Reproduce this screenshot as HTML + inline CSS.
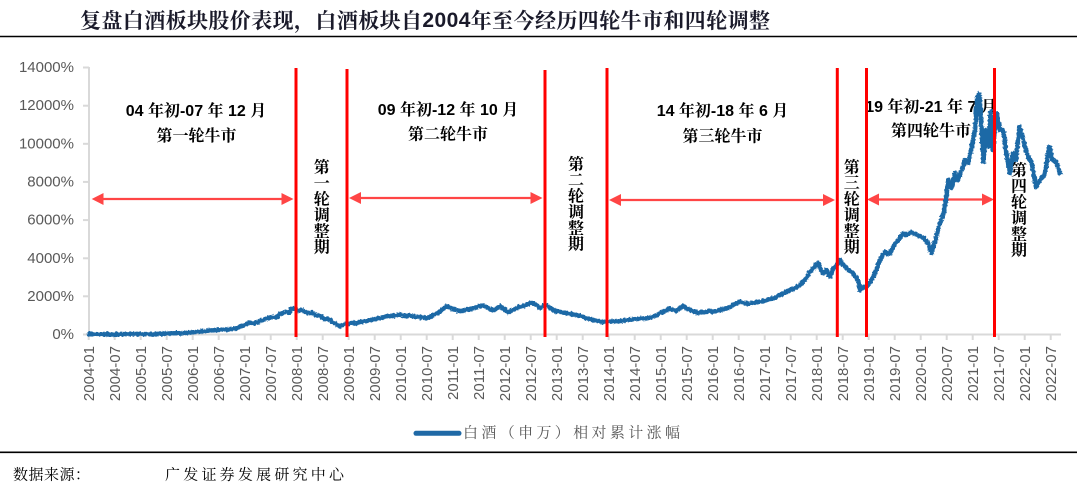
<!DOCTYPE html>
<html><head><meta charset="utf-8"><style>
html,body{margin:0;padding:0;background:#fff;}
svg{display:block;}
</style></head><body>
<svg width="1077" height="482" viewBox="0 0 1077 482" xmlns="http://www.w3.org/2000/svg">
<defs>
<filter id="rough" x="-2%" y="-10%" width="104%" height="120%">
<feTurbulence type="fractalNoise" baseFrequency="0.45" numOctaves="2" seed="3" result="n"/>
<feDisplacementMap in="SourceGraphic" in2="n" scale="3.2" xChannelSelector="R" yChannelSelector="G"/>
</filter>
</defs>
<rect width="1077" height="482" fill="#fff"/>
<!-- Title -->
<text x="80" y="20" dominant-baseline="central" font-size="21" font-weight="bold" fill="#1a1a2a" font-family="'Noto Serif CJK SC','Noto Sans CJK SC',serif" textLength="690" lengthAdjust="spacing">复盘白酒板块股价表现，白酒板块自<tspan font-family="'Liberation Sans',sans-serif" font-weight="bold">2004</tspan>年至今经历四轮牛市和四轮调整</text>
<line x1="0" y1="36.5" x2="1077" y2="36.5" stroke="#000" stroke-width="1.6"/>

<!-- Y axis -->
<g stroke="#d9d9d9" stroke-width="2">
<line x1="89" y1="67" x2="89" y2="335"/>
<line x1="83" y1="67.5" x2="89" y2="67.5"/>
<line x1="83" y1="105.7" x2="89" y2="105.7"/>
<line x1="83" y1="143.8" x2="89" y2="143.8"/>
<line x1="83" y1="181.9" x2="89" y2="181.9"/>
<line x1="83" y1="220.1" x2="89" y2="220.1"/>
<line x1="83" y1="258.3" x2="89" y2="258.3"/>
<line x1="83" y1="296.3" x2="89" y2="296.3"/>
<line x1="83" y1="334.5" x2="1061" y2="334.5"/>
</g>
<g font-family="'Liberation Sans',sans-serif" font-size="15" fill="#595959" text-anchor="end" dominant-baseline="central">
<text x="74" y="67.5">14000%</text>
<text x="74" y="105.7">12000%</text>
<text x="74" y="143.8">10000%</text>
<text x="74" y="181.9">8000%</text>
<text x="74" y="220.1">6000%</text>
<text x="74" y="258.3">4000%</text>
<text x="74" y="296.3">2000%</text>
<text x="74" y="334.5">0%</text>
</g>

<!-- X ticks -->
<g stroke="#d9d9d9" stroke-width="2">
<line x1="88.7" y1="334.5" x2="88.7" y2="340"/><line x1="114.7" y1="334.5" x2="114.7" y2="340"/><line x1="140.7" y1="334.5" x2="140.7" y2="340"/><line x1="166.7" y1="334.5" x2="166.7" y2="340"/><line x1="192.7" y1="334.5" x2="192.7" y2="340"/><line x1="218.7" y1="334.5" x2="218.7" y2="340"/><line x1="244.7" y1="334.5" x2="244.7" y2="340"/><line x1="270.7" y1="334.5" x2="270.7" y2="340"/><line x1="296.7" y1="334.5" x2="296.7" y2="340"/><line x1="322.7" y1="334.5" x2="322.7" y2="340"/><line x1="348.7" y1="334.5" x2="348.7" y2="340"/><line x1="374.7" y1="334.5" x2="374.7" y2="340"/><line x1="400.7" y1="334.5" x2="400.7" y2="340"/><line x1="426.7" y1="334.5" x2="426.7" y2="340"/><line x1="452.7" y1="334.5" x2="452.7" y2="340"/><line x1="478.7" y1="334.5" x2="478.7" y2="340"/><line x1="504.7" y1="334.5" x2="504.7" y2="340"/><line x1="530.7" y1="334.5" x2="530.7" y2="340"/><line x1="556.7" y1="334.5" x2="556.7" y2="340"/><line x1="582.7" y1="334.5" x2="582.7" y2="340"/><line x1="608.7" y1="334.5" x2="608.7" y2="340"/><line x1="634.7" y1="334.5" x2="634.7" y2="340"/><line x1="660.7" y1="334.5" x2="660.7" y2="340"/><line x1="686.7" y1="334.5" x2="686.7" y2="340"/><line x1="712.7" y1="334.5" x2="712.7" y2="340"/><line x1="738.7" y1="334.5" x2="738.7" y2="340"/><line x1="764.7" y1="334.5" x2="764.7" y2="340"/><line x1="790.7" y1="334.5" x2="790.7" y2="340"/><line x1="816.7" y1="334.5" x2="816.7" y2="340"/><line x1="842.7" y1="334.5" x2="842.7" y2="340"/><line x1="868.7" y1="334.5" x2="868.7" y2="340"/><line x1="894.7" y1="334.5" x2="894.7" y2="340"/><line x1="920.7" y1="334.5" x2="920.7" y2="340"/><line x1="946.7" y1="334.5" x2="946.7" y2="340"/><line x1="972.7" y1="334.5" x2="972.7" y2="340"/><line x1="998.7" y1="334.5" x2="998.7" y2="340"/><line x1="1024.7" y1="334.5" x2="1024.7" y2="340"/><line x1="1050.7" y1="334.5" x2="1050.7" y2="340"/>
</g>
<g font-family="'Liberation Sans',sans-serif" font-size="15" fill="#595959" text-anchor="end">
<text transform="translate(94.2,346) rotate(-90)">2004-01</text>
<text transform="translate(120.2,346) rotate(-90)">2004-07</text>
<text transform="translate(146.2,346) rotate(-90)">2005-01</text>
<text transform="translate(172.2,346) rotate(-90)">2005-07</text>
<text transform="translate(198.2,346) rotate(-90)">2006-01</text>
<text transform="translate(224.2,346) rotate(-90)">2006-07</text>
<text transform="translate(250.2,346) rotate(-90)">2007-01</text>
<text transform="translate(276.2,346) rotate(-90)">2007-07</text>
<text transform="translate(302.2,346) rotate(-90)">2008-01</text>
<text transform="translate(328.2,346) rotate(-90)">2008-07</text>
<text transform="translate(354.2,346) rotate(-90)">2009-01</text>
<text transform="translate(380.2,346) rotate(-90)">2009-07</text>
<text transform="translate(406.2,346) rotate(-90)">2010-01</text>
<text transform="translate(432.2,346) rotate(-90)">2010-07</text>
<text transform="translate(458.2,346) rotate(-90)">2011-01</text>
<text transform="translate(484.2,346) rotate(-90)">2011-07</text>
<text transform="translate(510.2,346) rotate(-90)">2012-01</text>
<text transform="translate(536.2,346) rotate(-90)">2012-07</text>
<text transform="translate(562.2,346) rotate(-90)">2013-01</text>
<text transform="translate(588.2,346) rotate(-90)">2013-07</text>
<text transform="translate(614.2,346) rotate(-90)">2014-01</text>
<text transform="translate(640.2,346) rotate(-90)">2014-07</text>
<text transform="translate(666.2,346) rotate(-90)">2015-01</text>
<text transform="translate(692.2,346) rotate(-90)">2015-07</text>
<text transform="translate(718.2,346) rotate(-90)">2016-01</text>
<text transform="translate(744.2,346) rotate(-90)">2016-07</text>
<text transform="translate(770.2,346) rotate(-90)">2017-01</text>
<text transform="translate(796.2,346) rotate(-90)">2017-07</text>
<text transform="translate(822.2,346) rotate(-90)">2018-01</text>
<text transform="translate(848.2,346) rotate(-90)">2018-07</text>
<text transform="translate(874.2,346) rotate(-90)">2019-01</text>
<text transform="translate(900.2,346) rotate(-90)">2019-07</text>
<text transform="translate(926.2,346) rotate(-90)">2020-01</text>
<text transform="translate(952.2,346) rotate(-90)">2020-07</text>
<text transform="translate(978.2,346) rotate(-90)">2021-01</text>
<text transform="translate(1004.2,346) rotate(-90)">2021-07</text>
<text transform="translate(1030.2,346) rotate(-90)">2022-01</text>
<text transform="translate(1056.2,346) rotate(-90)">2022-07</text>
</g>

<!-- Annotations (under series) -->
<g font-family="'Liberation Sans','Noto Serif CJK SC',serif" font-size="16" font-weight="bold" fill="#000" text-anchor="middle" dominant-baseline="central">
<text x="196" y="111.7">04 年初-07 年 12 月</text>
<text x="196.5" y="136.7">第一轮牛市</text>
<text x="448" y="110.7">09 年初-12 年 10 月</text>
<text x="448" y="135">第二轮牛市</text>
<text x="722.5" y="111.7">14 年初-18 年 6 月</text>
<text x="722.5" y="137">第三轮牛市</text>
<text x="931" y="107.7">19 年初-21 年 7 月</text>
<text x="931" y="131.7">第四轮牛市</text>
<text x="321.7" y="168">第</text><text x="321.7" y="184">一</text><text x="321.7" y="200">轮</text><text x="321.7" y="216">调</text><text x="321.7" y="232">整</text><text x="321.7" y="248">期</text>
<text x="576" y="165">第</text><text x="576" y="181">二</text><text x="576" y="197">轮</text><text x="576" y="213">调</text><text x="576" y="229">整</text><text x="576" y="245">期</text>
<text x="851.7" y="168">第</text><text x="851.7" y="184">三</text><text x="851.7" y="200">轮</text><text x="851.7" y="216">调</text><text x="851.7" y="232">整</text><text x="851.7" y="248">期</text>
<text x="1019" y="171">第</text><text x="1019" y="187">四</text><text x="1019" y="203">轮</text><text x="1019" y="219">调</text><text x="1019" y="235">整</text><text x="1019" y="251">期</text>
</g>

<!-- Arrows -->
<g stroke="#ff4545" stroke-width="2.2">
<line x1="100" y1="199" x2="285" y2="199"/>
<line x1="357" y1="198" x2="534" y2="198"/>
<line x1="617" y1="200" x2="827" y2="200"/>
<line x1="875" y1="199.5" x2="986" y2="199.5"/>
</g>
<g fill="#ff4545">
<polygon points="91.7,199 103.5,193 103.5,205"/><polygon points="293.5,199 281.5,193 281.5,205"/>
<polygon points="349,198 361,192 361,204"/><polygon points="542.5,198 530.5,192 530.5,204"/>
<polygon points="609,200 621,194 621,206"/><polygon points="835,200 823,194 823,206"/>
<polygon points="867,199.5 879,193.5 879,205.5"/><polygon points="994,199.5 982,193.5 982,205.5"/>
</g>

<!-- Series -->
<polyline filter="url(#rough)" fill="none" stroke="#1f69a6" stroke-width="4.6" stroke-linejoin="round" stroke-linecap="round" points="
89,334.2 110,334.4 130,334 150,334.2 168,333.5 185,333 200,331.5 210,330.5 218,330 230,329.5 238,328 244,325 248,323 253,323.5 258,322 265,319 272,317 276,317.5 280,314 286,312 289,313 291,309 295,308.5 298,311 302,310 308,313 312,312.5 315,315 320,316 325,319 328,318.5 332,322 336,324 340,326.5 345,324 352,323 356,323.5 360,322 366,321 372,320 379,318 385,317 390,316 395,315.5 399,314.5 405,316 410,315.5 415,316.5 420,317 427,318.5 431,316 435,314 438,313 442,310 447,306 452,309 456,310 460,311.5 465,310 470,309 474,308 478,306.5 483,305.5 487,307 490,309 494,310 500,306.5 504,309 508,312.5 512,310 515,309 520,306.5 524,306 527,304.5 533,302.5 536,305 540,308 543,306 546,305 549,307 552,309 556,311.5 561,312 566,313 571,314 576,315 581,316 586,318 590,319 593,320 600,321.5 607,322 612,321.5 617,321 622,321 627,320 632,319.5 637,319 642,318.5 647,318.3 650,317.5 653,316.7 657,315 660,313.3 665,311 670,308.3 673,310 676,311 680,308 683,306 686,308 690,310 694,312 697,313 701,312 705,312 709,311 713,311.7 717,311 720,310 724,309 727,308.3 730,307 733,305 737,303 740,301.7 744,303 747,304 750,303.5 753,303.3 758,302 763,301 768,299.5 773,298.3 777,297 780,295 784,293 787,291.7 790,290 793,289 797,287 800,285 803,282 805,280 808,275 810,271.7 812,270 814,268 816,265 818,263.3 820,268 821,270 823,273.3 826,270 828,273 830,276.7 832,272 833,268.3 835,266.7 838,263 840,260 843,265 845,266 847,268.3 850,271 853,273.3 855,276 856,278 858,280 860,290 863,287 866.7,286.7 870,282 873.3,276.7 877,268 880,260 883,255 885,251.7 888,254 890,253.3 893,247 895,243.3 899,240 901,236 903.3,233.3 906,235 908,234 911,232 913.3,233.3 917,235 920,236.7 924,238 926.7,241.7 929,246 931.7,253.3 933,248 935,241.7 938,230 940,223.3 942,218 944,213 946.5,195 948.3,180 951.7,188 955,173 958,180 961.7,170 965,160 968.3,163.3 971.7,146.7 975,130 977.3,96.7 979.3,94 981.7,130 983.3,161.7 986,130 988.3,146.7 990.7,111.7 992.7,150 996.7,113.3 1000,130 1003.3,130 1006.7,156.7 1010,173.3 1012.7,153.3 1016,160 1019.3,126.7 1022.7,136.7 1026.7,153.3 1031.7,163.3 1036,186.7 1040,180 1045,173.3 1049.3,146.7 1052.7,160 1056,161.7 1060,173.3"/>

<!-- Red vertical lines -->
<g stroke="#ff0000" stroke-width="3">
<line x1="296" y1="68" x2="296" y2="337"/>
<line x1="347" y1="69" x2="347" y2="337"/>
<line x1="545" y1="70" x2="545" y2="337"/>
<line x1="607" y1="68" x2="607" y2="337"/>
<line x1="837.3" y1="68" x2="837.3" y2="337"/>
<line x1="866.5" y1="68" x2="866.5" y2="337"/>
<line x1="994.5" y1="68" x2="994.5" y2="337"/>
</g>

<!-- Legend -->
<line x1="416" y1="433.3" x2="459" y2="433.3" stroke="#1f69a6" stroke-width="5" stroke-linecap="round"/>
<text x="463" y="433.5" dominant-baseline="central" font-size="15" fill="#595959" font-family="'Liberation Serif','Noto Serif CJK SC',serif" textLength="217" lengthAdjust="spacing">白酒（申万）相对累计涨幅</text>

<line x1="0" y1="452.3" x2="1077" y2="452.3" stroke="#000" stroke-width="1.6"/>

<!-- Footer -->
<text x="13" y="475.6" dominant-baseline="central" font-size="15" fill="#000" font-family="'Liberation Serif','Noto Serif CJK SC',serif" textLength="77" lengthAdjust="spacing">数据来源：</text>
<text x="165" y="475.6" dominant-baseline="central" font-size="15" fill="#000" font-family="'Liberation Serif','Noto Serif CJK SC',serif" textLength="179" lengthAdjust="spacing">广发证券发展研究中心</text>
</svg>
</body></html>
